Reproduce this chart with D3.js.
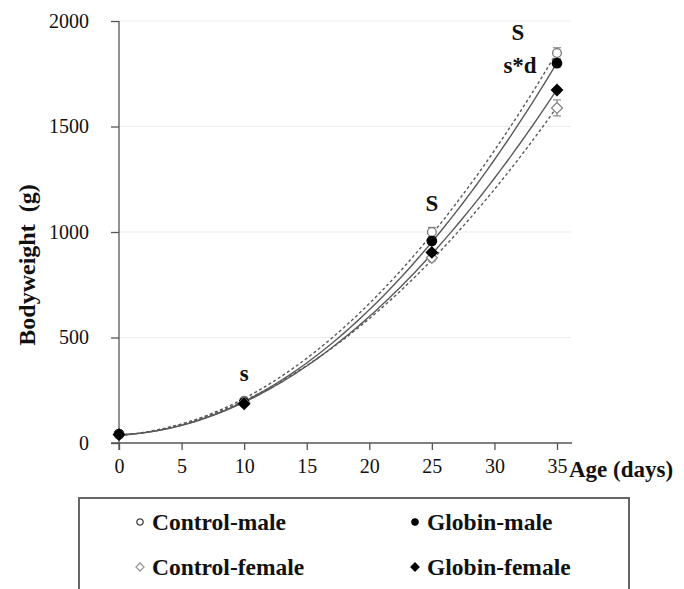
<!DOCTYPE html>
<html><head><meta charset="utf-8">
<script src="https://cdn.jsdelivr.net/npm/d3@7"></script>
<style>body{margin:0;background:#fff}svg{display:block}</style>
</head><body>
<svg id="c" width="684" height="589"></svg>
<script>
const ages = [0, 10, 25, 35];
const controlMale = [42, 200, 1000, 1848];
const globinMale = [42, 192, 957, 1800];
const controlFemale = [40, 190, 878, 1588];
const globinFemale = [40, 186, 903, 1673];
const errControlMale = [5, 8, 22, 25];
const errGlobinMale = [5, 8, 14, 18];
const errControlFemale = [5, 8, 16, 38];
const errGlobinFemale = [5, 8, 12, 10];
const xTicks = [0, 5, 10, 15, 20, 25, 30, 35];
const yTicks = [0, 500, 1000, 1500, 2000];
const annotations = [
  {age: 10, val: 295, text: "s"},
  {age: 25, val: 1100, text: "S"},
  {age: 35, val: 1910, text: "S", dx: -39},
  {age: 35, val: 1755, text: "s*d", dx: -37}
];
const seriesNames = ["Control-male", "Globin-male", "Control-female", "Globin-female"];

const svg = d3.select("#c");
const x = d3.scaleLinear().domain([0, 35]).range([119, 557]);
const y = d3.scaleLinear().domain([0, 2000]).range([443, 21]);
const serif = "'Liberation Serif', 'Times New Roman', serif";

// gridlines
svg.append("g").selectAll("line").data(yTicks.filter(d => d > 0)).join("line")
  .attr("x1", 119).attr("x2", 571).attr("y1", d => y(d)).attr("y2", d => y(d))
  .attr("stroke", "#ececec").attr("stroke-width", 1);

// axes
const gx = svg.append("g").attr("transform", `translate(0,${y(0)})`)
  .call(d3.axisBottom(x).tickValues(xTicks).tickFormat(d3.format("d")).tickSize(7).tickPadding(9).tickSizeOuter(0));
gx.select(".domain").attr("d", `M111,0H572`);
const gy = svg.append("g").attr("transform", `translate(${x(0)},0)`)
  .call(d3.axisLeft(y).tickValues(yTicks).tickFormat(d3.format("d")).tickSize(8).tickPadding(22).tickSizeOuter(0));
[gx, gy].forEach(g => {
  g.attr("font-family", serif);
  g.selectAll("path,line").attr("stroke", "#555").attr("stroke-width", 1.3);
  g.selectAll("text").attr("font-family", serif).attr("font-size", 20).attr("fill", "#111");
});
gy.select(".domain").attr("d", `M0,${y(2000)}V${y(0)+7}`);

svg.append("text").attr("x", 569).attr("y", 477).attr("font-family", serif)
  .attr("font-weight", "bold").attr("font-size", 23).attr("fill", "#111").text("Age (days)");
svg.append("text").attr("transform", "translate(35,265) rotate(-90)").attr("text-anchor", "middle")
  .attr("font-family", serif).attr("font-weight", "bold").attr("font-size", 24).attr("fill", "#111")
  .style("white-space", "pre").text("Bodyweight  (g)");

// quadratic least squares fit
function quadFit(xs, ys) {
  let S = [[0,0,0],[0,0,0],[0,0,0]], b = [0,0,0];
  xs.forEach((xv, i) => {
    const p = [1, xv, xv*xv];
    for (let r = 0; r < 3; r++) { b[r] += p[r]*ys[i]; for (let c = 0; c < 3; c++) S[r][c] += p[r]*p[c]; }
  });
  const M = S.map((row, i) => row.concat([b[i]]));
  for (let i = 0; i < 3; i++) {
    for (let k = i+1; k < 3; k++) { const f = M[k][i]/M[i][i]; for (let j = i; j < 4; j++) M[k][j] -= f*M[i][j]; }
  }
  const coef = [0,0,0];
  for (let i = 2; i >= 0; i--) { let s = M[i][3]; for (let j = i+1; j < 3; j++) s -= M[i][j]*coef[j]; coef[i] = s/M[i][i]; }
  return t => coef[0] + coef[1]*t + coef[2]*t*t;
}

// square diamond symbol
const symDiamond = { draw(ctx, size) { const r = Math.sqrt(size / 2); ctx.moveTo(0, -r); ctx.lineTo(r, 0); ctx.lineTo(0, r); ctx.lineTo(-r, 0); ctx.closePath(); } };

const series = [
  {vals: controlMale, err: errControlMale, dash: "3,2.5", sym: d3.symbolCircle, fill: "#fff", stroke: "#777", size: 60},
  {vals: globinMale, err: errGlobinMale, dash: null, sym: d3.symbolCircle, fill: "#000", stroke: "#000", size: 70},
  {vals: controlFemale, err: errControlFemale, dash: "3,2.5", sym: symDiamond, fill: "#fff", stroke: "#888", size: 60},
  {vals: globinFemale, err: errGlobinFemale, dash: null, sym: symDiamond, fill: "#000", stroke: "#000", size: 60}
];

const line = d3.line().x(d => x(d[0])).y(d => y(d[1]));
const tSamples = d3.range(0, 35.01, 0.5);
series.forEach(s => {
  const f = quadFit(ages, s.vals);
  svg.append("path").attr("d", line(tSamples.map(t => [t, f(t)])))
    .attr("fill", "none").attr("stroke", "#5a5a5a").attr("stroke-width", 1.4)
    .attr("stroke-dasharray", s.dash);
});

// error bars and markers
series.forEach(s => {
  const g = svg.append("g");
  ages.forEach((a, i) => {
    const v = s.vals[i], e = s.err[i];
    if (e > 6) {
      g.append("line").attr("x1", x(a)).attr("x2", x(a)).attr("y1", y(v+e)).attr("y2", y(v-e)).attr("stroke", "#777").attr("stroke-width", 1);
      [v+e, v-e].forEach(w => g.append("line").attr("x1", x(a)-4).attr("x2", x(a)+4).attr("y1", y(w)).attr("y2", y(w)).attr("stroke", "#777").attr("stroke-width", 1));
    }
  });
  g.selectAll("path").data(ages).join("path")
    .attr("transform", (a, i) => `translate(${x(a)},${y(s.vals[i])})`)
    .attr("d", d3.symbol().type(s.sym).size(s.size))
    .attr("fill", s.fill).attr("stroke", s.stroke).attr("stroke-width", 1.3);
});

// annotations
svg.append("g").selectAll("text").data(annotations).join("text")
  .attr("x", d => x(d.age) + (d.dx || 0)).attr("y", d => y(d.val)).attr("text-anchor", "middle")
  .attr("font-family", serif).attr("font-weight", "bold").attr("font-size", 23).attr("fill", "#111")
  .text(d => d.text);

// legend
svg.append("path").attr("d", "M79,589V498H629V589").attr("fill", "none").attr("stroke", "#666").attr("stroke-width", 2);
const legPos = [[140, 522], [415, 522], [140, 567], [415, 567]];
const legSym = [
  {sym: d3.symbolCircle, fill: "#fff", stroke: "#444", size: 32},
  {sym: d3.symbolCircle, fill: "#000", stroke: "#000", size: 32},
  {sym: symDiamond, fill: "#fff", stroke: "#999", size: 32},
  {sym: symDiamond, fill: "#000", stroke: "#000", size: 32}
];
seriesNames.forEach((n, i) => {
  const [lx, ly] = legPos[i];
  svg.append("path").attr("transform", `translate(${lx},${ly})`).attr("d", d3.symbol().type(legSym[i].sym).size(legSym[i].size))
    .attr("fill", legSym[i].fill).attr("stroke", legSym[i].stroke).attr("stroke-width", 1.3);
  svg.append("text").attr("x", lx + 12).attr("y", ly + 8).attr("font-family", serif).attr("font-weight", "bold")
    .attr("font-size", 23.5).attr("fill", "#111").text(n);
});
</script>
</body></html>
